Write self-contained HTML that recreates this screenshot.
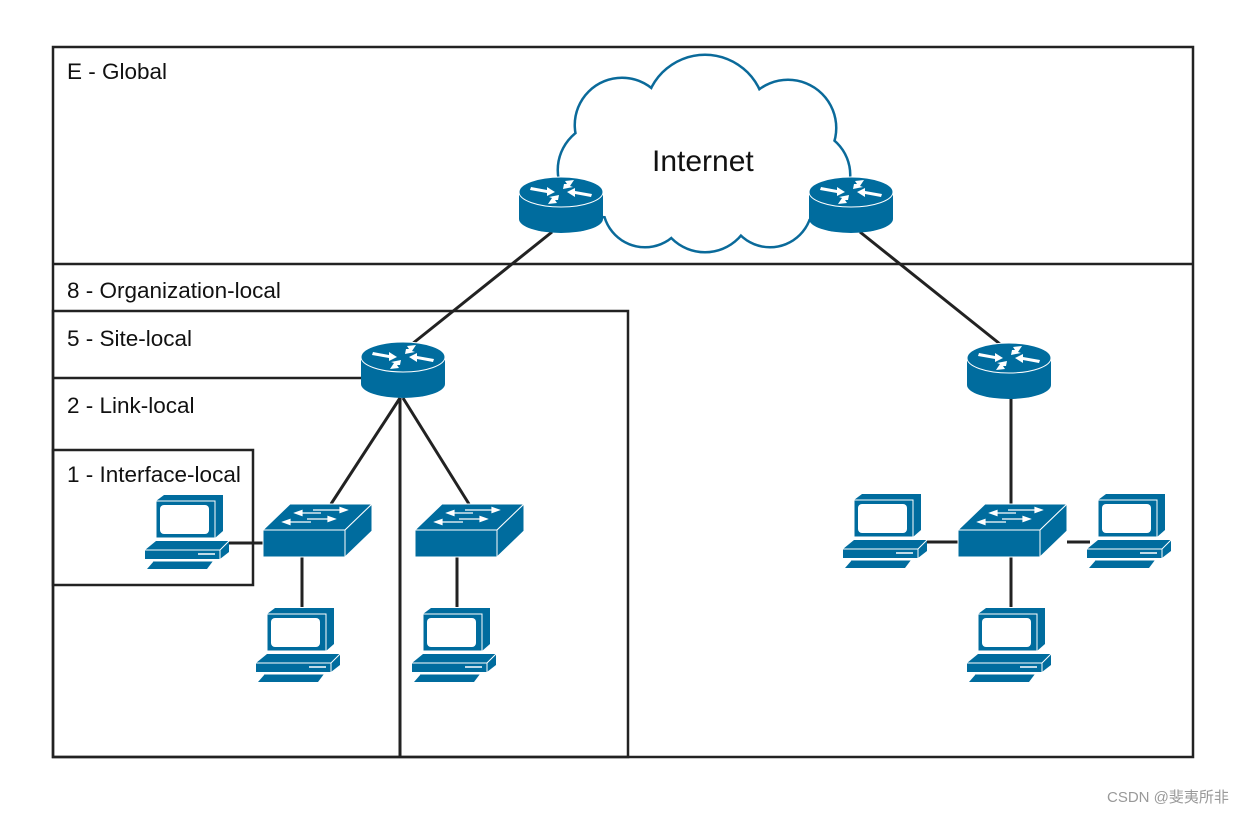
<!DOCTYPE html>
<html><head><meta charset="utf-8"><style>
body{margin:0;background:#fff}
svg{display:block}
text{font-family:"Liberation Sans",sans-serif;fill:#111}
</style></head><body>
<svg width="1258" height="814" viewBox="0 0 1258 814" xmlns="http://www.w3.org/2000/svg">
<defs>
<g id="router">
  <rect x="-42" y="0" width="84" height="27" fill="#006c9e"/>
  <ellipse cx="0" cy="27" rx="42" ry="14" fill="#006c9e"/>
  <ellipse cx="0" cy="0" rx="42" ry="15" fill="#006c9e" stroke="#fff" stroke-width="1"/>
  <g fill="#fff">
    <polygon points="-30,-5 -14,-2 -14,-5 -6,0 -14,4 -14,1 -31,-2"/>
    <polygon points="30,5 14,2 14,5 6,0 14,-4 14,-1 31,2"/>
    <polygon points="4,-11 13,-12 9,-6 12,-5 2,-3 3,-8 6,-8"/>
    <polygon points="-4,11 -13,12 -9,6 -12,5 -2,3 -3,8 -6,8"/>
  </g>
</g>
<g id="switch">
  <polygon points="0,26 27,0 109,0 82,26" fill="#006c9e" stroke="#fff" stroke-width="1"/>
  <rect x="0" y="26" width="82" height="27" fill="#006c9e" stroke="#fff" stroke-width="1"/>
  <polygon points="82,26 109,0 109,27 82,53" fill="#006c9e" stroke="#fff" stroke-width="1"/>
  <g stroke="#fff" stroke-width="1.2" fill="#fff">
    <line x1="50" y1="6" x2="78" y2="6"/><polygon points="84,6 77,3.5 77,8.5"/>
    <line x1="38" y1="9" x2="58" y2="9"/><polygon points="32,9 39,6.5 39,11.5"/>
    <line x1="44" y1="15" x2="66" y2="15"/><polygon points="72,15 65,12.5 65,17.5"/>
    <line x1="26" y1="18" x2="48" y2="18"/><polygon points="20,18 27,15.5 27,20.5"/>
  </g>
</g>
<g id="pc">
  <polygon points="11,6 19,0 78,0 78,36 70,43 11,43" fill="#006c9e"/>
  <rect x="11" y="6" width="59" height="37" fill="#006c9e" stroke="#fff" stroke-width="1"/>
  <rect x="15" y="10" width="49" height="29" rx="4" fill="#fff"/>
  <polygon points="0,55 11,46 84,46 84,57 75,64 0,64" fill="#006c9e"/>
  <polyline points="0,55 75,55 84,46" fill="none" stroke="#fff" stroke-width="1"/>
  <line x1="75" y1="55" x2="75" y2="64" stroke="#fff" stroke-width="1"/>
  <line x1="53" y1="59" x2="70" y2="59" stroke="#fff" stroke-width="1.5"/>
  <polygon points="2,74 9,66 68,66 62,74" fill="#006c9e"/>
  <line x1="9" y1="66" x2="68" y2="66" stroke="#fff" stroke-width="1"/>
</g>
</defs>

<g fill="none" stroke="#222" stroke-width="2.5">
  <rect x="53" y="47" width="1140" height="710"/>
  <line x1="53" y1="264" x2="1193" y2="264"/>
  <rect x="53" y="311" width="575" height="446"/>
  <line x1="53" y1="378" x2="362" y2="378"/>
  <rect x="53" y="450" width="200" height="135"/>
</g>
<g font-size="22.5">
  <text x="67" y="79">E - Global</text>
  <text x="67" y="298">8 - Organization-local</text>
  <text x="67" y="346">5 - Site-local</text>
  <text x="67" y="413">2 - Link-local</text>
  <text x="67" y="482">1 - Interface-local</text>
</g>

<g fill="#fff" stroke="#0a6a9a" stroke-width="3">
  <circle cx="705" cy="115" r="60"/><circle cx="622" cy="125" r="47"/>
  <circle cx="605" cy="170" r="47"/><circle cx="788" cy="128" r="48"/>
  <circle cx="805" cy="175" r="45"/><circle cx="645" cy="205" r="42"/>
  <circle cx="705" cy="205" r="47"/><circle cx="770" cy="205" r="42"/>
</g>
<g fill="#fff">
  <circle cx="705" cy="115" r="59"/><circle cx="622" cy="125" r="46"/>
  <circle cx="605" cy="170" r="46"/><circle cx="788" cy="128" r="47"/>
  <circle cx="805" cy="175" r="44"/><circle cx="645" cy="205" r="41"/>
  <circle cx="705" cy="205" r="46"/><circle cx="770" cy="205" r="41"/>
  <ellipse cx="705" cy="165" rx="115" ry="55"/>
</g>
<text x="652" y="171" font-size="30">Internet</text>

<g stroke="#222" stroke-width="3">
  <line x1="552" y1="232" x2="412" y2="344"/>
  <line x1="860" y1="232" x2="1000" y2="344"/>
  <line x1="400" y1="398" x2="331" y2="504"/>
  <line x1="403" y1="398" x2="469" y2="504"/>
  <line x1="400" y1="398" x2="400" y2="757"/>
  <line x1="1011" y1="398" x2="1011" y2="504"/>
  <line x1="228" y1="543" x2="263" y2="543"/>
  <line x1="302" y1="557" x2="302" y2="607"/>
  <line x1="457" y1="557" x2="457" y2="607"/>
  <line x1="926" y1="542" x2="958" y2="542"/>
  <line x1="1067" y1="542" x2="1090" y2="542"/>
  <line x1="1011" y1="557" x2="1011" y2="607"/>
</g>

<use href="#router" x="561" y="192"/>
<use href="#router" x="851" y="192"/>
<use href="#router" x="403" y="357"/>
<use href="#router" x="1009" y="358"/>

<use href="#switch" x="263" y="504"/>
<use href="#switch" x="415" y="504"/>
<use href="#switch" x="958" y="504"/>

<use href="#pc" x="145" y="495"/>
<use href="#pc" x="256" y="608"/>
<use href="#pc" x="412" y="608"/>
<use href="#pc" x="843" y="494"/>
<use href="#pc" x="1087" y="494"/>
<use href="#pc" x="967" y="608"/>

<text x="1107" y="802" font-size="15" style="font-family:'Liberation Sans','Noto Sans CJK SC',sans-serif;fill:#999">CSDN @斐夷所非</text>
</svg>
</body></html>
